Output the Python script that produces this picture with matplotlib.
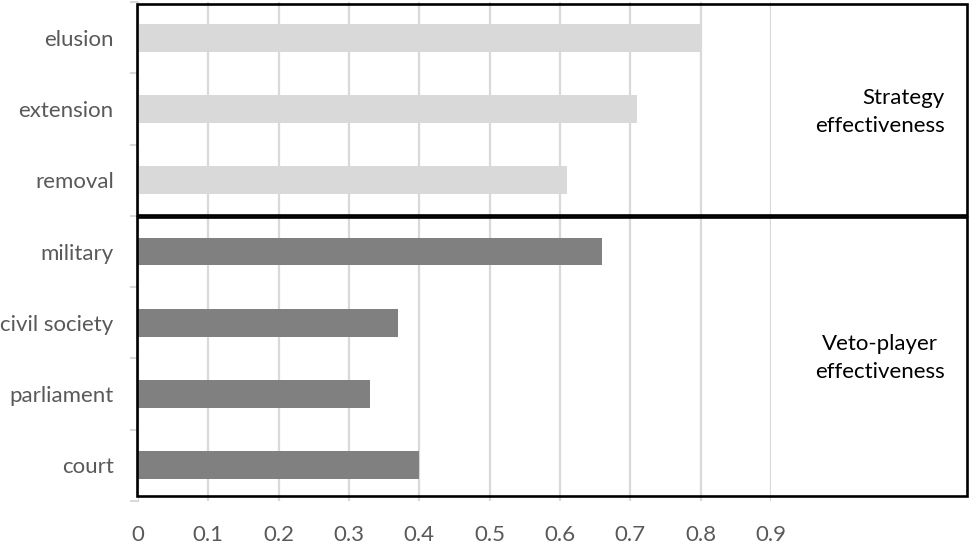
import matplotlib
matplotlib.use("Agg")
import matplotlib.pyplot as plt
from matplotlib.patches import Rectangle
import numpy as np

categories = ["elusion", "extension", "removal", "military", "civil society", "parliament", "court"]
values = [0.80, 0.71, 0.61, 0.66, 0.37, 0.33, 0.40]
groups = ["strategy", "strategy", "strategy", "veto", "veto", "veto", "veto"]
group_colors = {"strategy": "#d9d9d9", "veto": "#808080"}
xticks = [0, 0.1, 0.2, 0.3, 0.4, 0.5, 0.6, 0.7, 0.8, 0.9]
xtick_labels = ["0", "0.1", "0.2", "0.3", "0.4", "0.5", "0.6", "0.7", "0.8", "0.9"]
group_labels = ["Strategy\neffectiveness", "Veto-player\neffectiveness"]

W, H = 969, 549
fig = plt.figure(figsize=(W / 100, H / 100), dpi=100)
plt.rcParams['font.family'] = ['Lato', 'DejaVu Sans']
FS = 16

def fx(px):
    return px / W

def fy(py):
    return 1 - py / H

ax = fig.add_axes([fx(138), fy(501), fx(771) - fx(138), fy(2) - fy(501)])
y = np.arange(len(categories))
colors = [group_colors[g] for g in groups]
ax.barh(y, values, height=0.39, color=colors, zorder=3)
ax.set_xlim(0, 0.9)
ax.set_ylim(len(categories) - 0.5, -0.5)
ax.set_yticks(y)
ax.set_yticklabels(categories, fontsize=FS, color="#595959")
ax.set_yticks(np.arange(len(categories) + 1) - 0.5, minor=True)
ax.tick_params(axis="y", which="major", length=0, pad=17.5)
ax.tick_params(axis="y", which="minor", length=6, color="#d9d9d9", width=1.5)
ax.set_xticks(xticks)
ax.set_xticklabels(xtick_labels, fontsize=FS, color="#595959")
ax.tick_params(axis="x", length=0, pad=17)
ax.grid(axis="x", color="#d9d9d9", linewidth=1.6, zorder=0)
ax.set_axisbelow(True)
for s in ["top", "right", "bottom"]:
    ax.spines[s].set_visible(False)
ax.spines["left"].set_color("#d9d9d9")

# group boxes
box_kw = dict(transform=fig.transFigure, fill=False, edgecolor="black", linewidth=1.9, zorder=10)
fig.patches.append(Rectangle((fx(137), fy(215)), fx(967) - fx(137), fy(4) - fy(215), **box_kw))
fig.patches.append(Rectangle((fx(137), fy(496)), fx(967) - fx(137), fy(217) - fy(496), **box_kw))

fig.text(fx(945), fy(112), group_labels[0], ha="right", va="center", multialignment="right",
         fontsize=FS, color="black", linespacing=1.5)
fig.text(fx(880), fy(358), group_labels[1], ha="center", va="center", multialignment="center",
         fontsize=FS, color="black", linespacing=1.5)

fig.savefig("out.png", dpi=100)
